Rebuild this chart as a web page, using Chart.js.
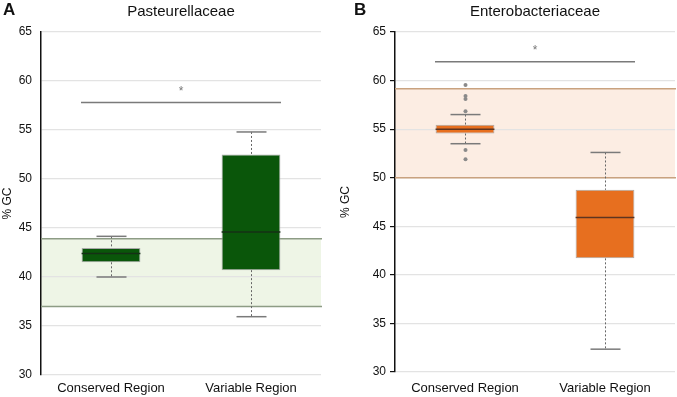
<!DOCTYPE html>
<html>
<head>
<meta charset="utf-8">
<script src="https://cdn.jsdelivr.net/npm/chart.js@4.4.1/dist/chart.umd.min.js"></script>
<style>
  html, body { margin: 0; padding: 0; background: #fff; }
  .panel { position: absolute; top: 0; height: 397px; }
  #panelA { left: 0; width: 338px; }
  #panelB { left: 338px; width: 339px; }
</style>
</head>
<body>
<div class="panel" id="panelA"><canvas id="chartA"></canvas></div>
<div class="panel" id="panelB"><canvas id="chartB"></canvas></div>
<script>
// categories and axis
const categories = ['Conserved Region', 'Variable Region'];
const yTicks = [30, 35, 40, 45, 50, 55, 60, 65];

// Pasteurellaceae box stats (conserved, variable)
const pastMin = [40.0, 35.95];
const pastQ1 = [41.5, 40.7];
const pastMedian = [42.4, 44.6];
const pastQ3 = [42.95, 52.5];
const pastMax = [44.15, 54.8];
const pastOutliers = [[], []];
const pastBand = [37.0, 43.9];
const pastSignif = 57.8;

// Enterobacteriaceae box stats
const entMin = [53.5, 32.35];
const entQ1 = [54.55, 41.7];
const entMedian = [55.0, 45.9];
const entQ3 = [55.45, 48.75];
const entMax = [56.5, 52.6];
const entOutliers = [[59.55, 58.4, 58.1, 56.85, 52.85, 51.9], []];
const entBand = [50.0, 59.15];
const entSignif = 61.95;

const FONT = '"Liberation Sans", Arial, sans-serif';

// draws band, whiskers, medians, outliers, significance bar and texts
const boxPlugin = {
  id: 'boxPlot',
  beforeDraw(chart, args, o) {
    const { ctx, chartArea: a, scales: { y } } = chart;
    const yTop = y.getPixelForValue(o.band[1]);
    const yBot = y.getPixelForValue(o.band[0]);
    ctx.save();
    ctx.fillStyle = o.bandFill;
    ctx.fillRect(a.left, yTop, a.right - a.left, yBot - yTop);
    ctx.restore();
  },
  beforeDatasetsDraw(chart, args, o) {
    const { ctx, chartArea: a, scales: { x, y } } = chart;
    ctx.save();
    // band borders
    ctx.strokeStyle = o.bandLine;
    ctx.lineWidth = 1.5;
    o.band.forEach(v => {
      const py = y.getPixelForValue(v);
      ctx.beginPath(); ctx.moveTo(a.left, py); ctx.lineTo(a.right + 1, py); ctx.stroke();
    });
    // whiskers
    categories.forEach((c, i) => {
      const cx = Math.round(x.getPixelForValue(i)) + 0.5;
      ctx.strokeStyle = '#666';
      ctx.lineWidth = 1;
      ctx.setLineDash([2, 2]);
      ctx.beginPath();
      ctx.moveTo(cx, y.getPixelForValue(o.max[i]));
      ctx.lineTo(cx, y.getPixelForValue(o.q3[i]));
      ctx.moveTo(cx, y.getPixelForValue(o.q1[i]));
      ctx.lineTo(cx, y.getPixelForValue(o.min[i]));
      ctx.stroke();
      ctx.setLineDash([]);
      ctx.strokeStyle = '#7a7a7a';
      ctx.lineWidth = 1.5;
      [o.max[i], o.min[i]].forEach(v => {
        const py = y.getPixelForValue(v);
        ctx.beginPath(); ctx.moveTo(cx - 15, py); ctx.lineTo(cx + 15, py); ctx.stroke();
      });
      ctx.fillStyle = '#8a8a8a';
      o.outliers[i].forEach(v => {
        ctx.beginPath(); ctx.arc(cx, y.getPixelForValue(v), 2, 0, Math.PI * 2); ctx.fill();
      });
    });
    ctx.restore();
  },
  afterDatasetsDraw(chart, args, o) {
    const { ctx, chartArea: a, scales: { x, y } } = chart;
    const meta = chart.getDatasetMeta(0);
    ctx.save();
    meta.data.forEach((bar, i) => {
      const py = y.getPixelForValue(o.median[i]);
      ctx.strokeStyle = o.medianColor;
      ctx.lineWidth = 1.5;
      ctx.beginPath(); ctx.moveTo(bar.x - bar.width / 2, py); ctx.lineTo(bar.x + bar.width / 2, py); ctx.stroke();
    });
    // significance bar
    const sy = y.getPixelForValue(o.signif);
    ctx.strokeStyle = '#7a7a7a';
    ctx.lineWidth = 1.5;
    ctx.beginPath();
    ctx.moveTo(x.getPixelForValue(0) - 30, sy);
    ctx.lineTo(x.getPixelForValue(1) + 30, sy);
    ctx.stroke();
    ctx.fillStyle = '#777';
    ctx.font = '12px ' + FONT;
    ctx.textAlign = 'center';
    ctx.textBaseline = 'middle';
    ctx.fillText('*', (x.getPixelForValue(0) + x.getPixelForValue(1)) / 2, sy - 11);
    // title and panel letter
    ctx.fillStyle = '#111';
    ctx.font = '15px ' + FONT;
    ctx.fillText(o.title, (a.left + a.right) / 2, 12);
    ctx.font = 'bold 17px ' + FONT;
    ctx.textAlign = 'left';
    ctx.fillText(o.letter, o.letterX, 10);
    ctx.restore();
  }
};

function makeChart(id, s) {
  return new Chart(document.getElementById(id), {
    type: 'bar',
    data: {
      labels: categories,
      datasets: [{
        data: categories.map((c, i) => [s.q1[i], s.q3[i]]),
        backgroundColor: s.boxColor,
        borderColor: '#a8a8a8',
        borderWidth: 1,
        borderSkipped: false,
        barPercentage: 0.42,
        categoryPercentage: 1
      }]
    },
    options: {
      responsive: true,
      maintainAspectRatio: false,
      animation: false,
      layout: { padding: { top: 32, left: 0, right: s.padRight, bottom: 0 } },
      plugins: {
        legend: { display: false },
        tooltip: { enabled: false },
        boxPlot: s
      },
      scales: {
        x: {
          grid: { display: false, drawTicks: false },
          border: { display: false },
          ticks: { color: '#111', font: { family: FONT, size: 13 }, padding: s.xPad },
          afterFit: sc => { sc.height = s.xHeight; }
        },
        y: {
          min: 30, max: 65,
          afterBuildTicks: sc => { sc.ticks = yTicks.map(v => ({ value: v })); },
          grid: { color: '#e3e3e3', lineWidth: 1.2, drawTicks: s.drawTicks, tickLength: 5, tickColor: '#111' },
          border: { display: true, color: '#111', width: 1.5 },
          ticks: { color: '#111', font: { family: FONT, size: 12 }, padding: s.tickPad },
          title: { display: true, text: '% GC', color: '#111', font: { family: FONT, size: 12 }, padding: { top: 0, bottom: 2 } },
          afterFit: sc => { sc.width = s.yWidth; }
        }
      }
    },
    plugins: [boxPlugin]
  });
}

makeChart('chartA', {
  min: pastMin, q1: pastQ1, median: pastMedian, q3: pastQ3, max: pastMax,
  outliers: pastOutliers, band: pastBand, signif: pastSignif,
  title: 'Pasteurellaceae', letter: 'A', letterX: 3,
  boxColor: '#0a560a', medianColor: '#163016',
  bandFill: '#eef5e6', bandLine: '#8d9c85',
  padRight: 17, xHeight: 22, xPad: 6, yWidth: 41, drawTicks: false, tickPad: 9
});

makeChart('chartB', {
  min: entMin, q1: entQ1, median: entMedian, q3: entQ3, max: entMax,
  outliers: entOutliers, band: entBand, signif: entSignif,
  title: 'Enterobacteriaceae', letter: 'B', letterX: 16,
  boxColor: '#e76f1f', medianColor: '#5e3420',
  bandFill: '#fcede3', bandLine: '#c9a27f',
  padRight: 2, xHeight: 25, xPad: 9, yWidth: 57, drawTicks: true, tickPad: 4
});
</script>
</body>
</html>
